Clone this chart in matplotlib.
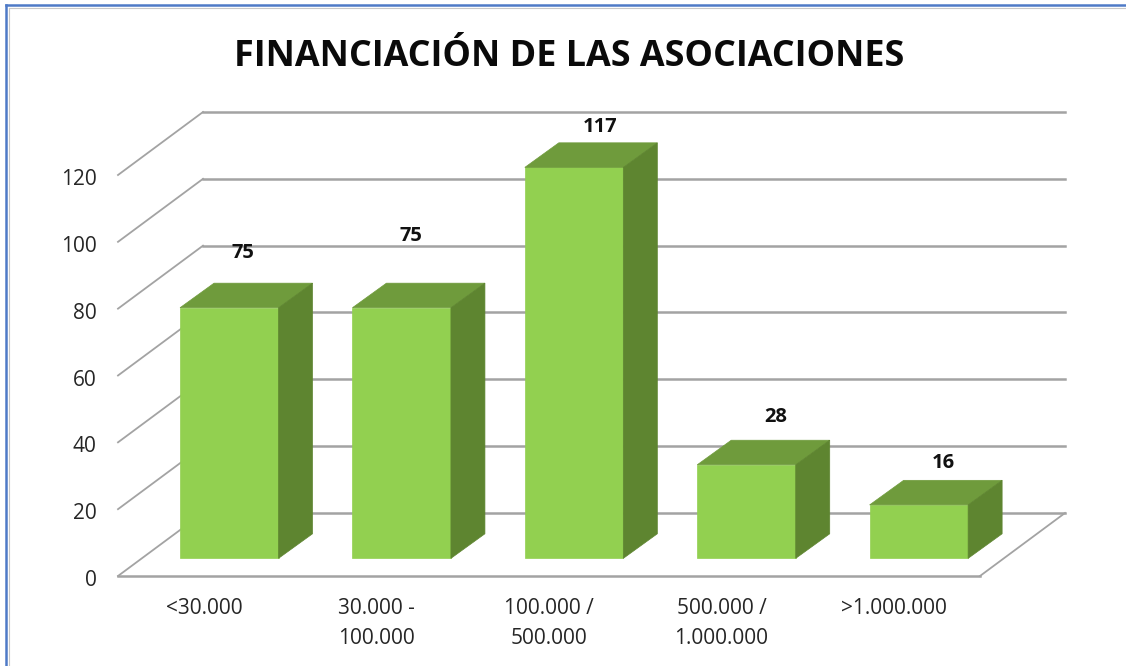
import matplotlib
matplotlib.use('Agg')
import matplotlib.pyplot as plt
from matplotlib.patches import Polygon
from matplotlib.lines import Line2D
from matplotlib.transforms import ScaledTranslation

categories = ['<30.000', '30.000 -\n100.000', '100.000 /\n500.000', '500.000 /\n1.000.000', '>1.000.000']
values = [75, 75, 117, 28, 16]
yticks = [0, 20, 40, 60, 80, 100, 120]
title = 'FINANCIACIÓN DE LAS ASOCIACIONES'

# label offset from bar top, in px, labels were moved by hand in the original
label_dx = [14, 9, 26, 29, 24]
label_dy = [55, 72, 40, 48, 42]

W, H = 1126, 666
plt.rcParams['font.family'] = ['Open Sans', 'DejaVu Sans']

fig = plt.figure(figsize=(W / 100, H / 100), dpi=100)
ax = fig.add_axes([118 / W, (H - 576) / H, (980 - 118) / W, (576 - 175) / H])
ax.set_xlim(-0.5, 4.5)
ax.set_ylim(0, 120)
for s in ax.spines.values():
    s.set_visible(False)

# oblique depth of the box, in data units
px_x = (980 - 118) / 5
px_y = (576 - 175) / 120
depth_x = 85 / px_x
depth_y = 63 / px_y

grid = '#a3a3a3'
for y in yticks:
    ax.plot([-0.5, -0.5 + depth_x], [y, y + depth_y], color=grid, lw=1.3, clip_on=False, zorder=1)
    ax.plot([-0.5 + depth_x, 4.5 + depth_x], [y + depth_y, y + depth_y], color=grid, lw=1.8, clip_on=False, zorder=1)
ax.plot([-0.5, 4.5], [0, 0], color=grid, lw=1.8, clip_on=False, zorder=1)
ax.plot([4.5, 4.5 + depth_x], [0, depth_y], color=grid, lw=1.3, clip_on=False, zorder=1)

# bars sit a bit inside the floor
bar_w = 98.5 / px_x
off_x, off_y = 0.295 * depth_x, 0.28 * depth_y
bar_dx, bar_dy = 0.4 * depth_x, 0.39 * depth_y

front = '#92d050'
top = '#6f9b3c'
side = '#5e8530'
for i, v in enumerate(values):
    x0 = i - bar_w / 2 + off_x
    x1 = i + bar_w / 2 + off_x
    y0 = off_y
    y1 = off_y + v
    ax.add_patch(Polygon([(x0, y0), (x1, y0), (x1, y1), (x0, y1)], fc=front, ec=front, lw=0.5, clip_on=False, zorder=3))
    ax.add_patch(Polygon([(x0, y1), (x1, y1), (x1 + bar_dx, y1 + bar_dy), (x0 + bar_dx, y1 + bar_dy)], fc=top, ec=top, lw=0.5, clip_on=False, zorder=3))
    ax.add_patch(Polygon([(x1, y0), (x1 + bar_dx, y0 + bar_dy), (x1 + bar_dx, y1 + bar_dy), (x1, y1)], fc=side, ec=side, lw=0.5, clip_on=False, zorder=3))
    ax.annotate(str(v), (i + off_x, y1), xytext=(label_dx[i] * 0.72, label_dy[i] * 0.72), textcoords='offset points',
                ha='center', va='center', fontsize=14.5, fontweight='bold', color='#111111', zorder=4, annotation_clip=False)

ax.set_yticks(yticks)
ax.set_yticklabels([str(y) for y in yticks], fontsize=15, color='#262626')
ax.set_xticks(range(5))
ax.set_xticklabels(categories, fontsize=15, color='#262626', linespacing=1.55)
ax.tick_params(axis='y', length=0, pad=15.5)
ax.tick_params(axis='x', length=0, pad=16)
# nudge y labels down a little
for t in ax.get_yticklabels():
    t.set_transform(t.get_transform() + ScaledTranslation(0, -2 / 100, fig.dpi_scale_trans))

fig.text(569 / W, 1 - 57 / H, title, ha='center', va='center', fontsize=25.8, fontweight='bold', color='#0a0a0a')

# frame of the pasted chart, only top and left show
fig.add_artist(Line2D([6 / W, 6 / W], [0, 1 - 5 / H], color='#4f7ac7', lw=1.8))
fig.add_artist(Line2D([6 / W, 1], [1 - 5 / H, 1 - 5 / H], color='#4f7ac7', lw=1.8))
fig.add_artist(Line2D([8.5 / W, 8.5 / W], [0, 1 - 7.5 / H], color='#c8c8c8', lw=0.8))
fig.add_artist(Line2D([8.5 / W, 1], [1 - 7.5 / H, 1 - 7.5 / H], color='#c8c8c8', lw=0.8))

fig.savefig('out.png', dpi=100)
